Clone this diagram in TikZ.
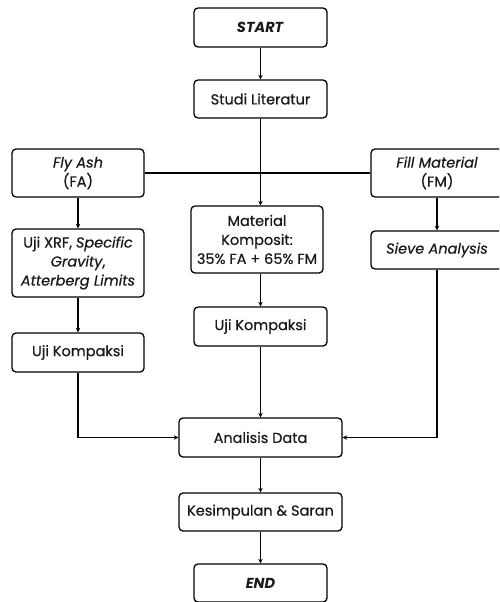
\documentclass[tikz,border=0pt]{standalone}
\usepackage{fontspec}
\setmainfont{Poppins}[UprightFeatures={FakeBold=0.5},ItalicFeatures={FakeBold=0.5}]
\usetikzlibrary{arrows.meta}
\begin{document}
\begin{tikzpicture}[x=1pt,y=-1pt,
  box/.style={draw=black,line width=1.3pt,rounded corners=4pt,inner sep=0pt,align=center,font=\fontsize{14.5}{19}\selectfont,text=black!90},
  conn/.style={draw=black,line width=1.2pt},
  arr/.style={conn,-{Stealth[length=4.5pt,width=4.5pt]}}]
\clip (0,0) rectangle (499,602);
\useasboundingbox (0,0) rectangle (499,602);
\node[box,minimum width=133pt,minimum height=39pt] (start) at (260.5,27.5) {\textbf{\textit{START}}};
\node[box,minimum width=133pt,minimum height=38pt] (studi) at (260.5,99) {Studi Literatur};
\node[box,minimum width=132pt,minimum height=48pt] (fa) at (78,173) {\textit{Fly Ash}\\(FA)};
\node[box,minimum width=132pt,minimum height=48pt] (fm) at (437,173) {\textit{Fill Material}\\(FM)};
\node[box,minimum width=132pt,minimum height=68pt] (xrf) at (78,263) {Uji XRF, \textit{Specific}\\\textit{Gravity},\\\textit{Atterberg Limits}};
\node[box,minimum width=132pt,minimum height=67pt] (mk) at (257,239.5) {Material\\Komposit:\\35\% FA + 65\% FM};
\node[box,minimum width=132pt,minimum height=38pt] (sieve) at (437,250) {\textit{Sieve Analysis}};
\node[box,minimum width=132pt,minimum height=39pt] (ukl) at (78,352.5) {Uji Kompaksi};
\node[box,minimum width=133pt,minimum height=39pt] (ukm) at (260.5,326.5) {Uji Kompaksi};
\node[box,minimum width=163pt,minimum height=39pt] (ad) at (260.5,437.5) {Analisis Data};
\node[box,minimum width=163pt,minimum height=38pt] (ks) at (260.5,512) {Kesimpulan \& Saran};
\node[box,minimum width=133pt,minimum height=38pt] (end) at (260.5,583) {\textbf{\textit{END}}};
\draw[arr] (start) -- (studi);
\draw[arr] (studi.south) -- (studi.south |- mk.north);
\draw[conn] (fa) -- (fm);
\draw[arr] (fa) -- (xrf);
\draw[arr] (fm) -- (sieve);
\draw[arr] (xrf) -- (ukl);
\draw[arr] (mk.south -| ukm) -- (ukm);
\draw[arr] (ukl.south) |- (ad.west);
\draw[arr] (ukm) -- (ad);
\draw[arr] (sieve.south) |- (ad.east);
\draw[arr] (ad) -- (ks);
\draw[arr] (ks) -- (end);
\end{tikzpicture}
\end{document}
